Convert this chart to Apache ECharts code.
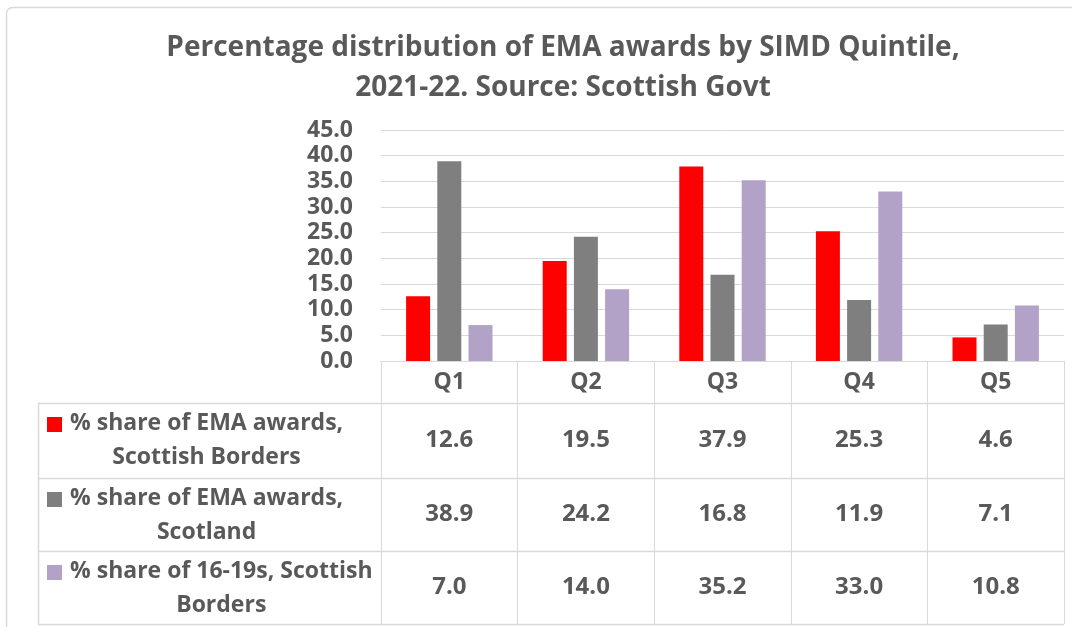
<!DOCTYPE html>
<html>
<head>
<meta charset="utf-8">
<script src="https://cdn.jsdelivr.net/npm/echarts@6/dist/echarts.min.js"></script>
<style>
  html, body { margin: 0; padding: 0; background: #fff; }
  #chart { width: 1072px; height: 627px; }
</style>
</head>
<body>
<div id="chart"></div>
<script>
// SIMD quintiles and the three percentage series
const quintiles = ['Q1', 'Q2', 'Q3', 'Q4', 'Q5'];
const bordersEMA = [12.6, 19.5, 37.9, 25.3, 4.6];
const scotlandEMA = [38.9, 24.2, 16.8, 11.9, 7.1];
const bordersPop = [7.0, 14.0, 35.2, 33.0, 10.8];
const seriesNames = [
  '% share of EMA awards, Scottish Borders',
  '% share of EMA awards, Scotland',
  '% share of 16-19s, Scottish Borders'
];
// wrapped forms used in the data-table key
const seriesKeyLines = [
  ['% share of EMA awards,', 'Scottish Borders'],
  ['% share of EMA awards,', 'Scotland'],
  ['% share of 16-19s, Scottish', 'Borders']
];
const titleLines = [
  'Percentage distribution of EMA awards by SIMD Quintile,',
  '2021-22. Source: Scottish Govt'
];
const yMin = 0, yMax = 45, yStep = 5;

const seriesValues = [bordersEMA, scotlandEMA, bordersPop];
const colors = ['#FF0000', '#7F7F7F', '#B3A2C7'];
const textColor = '#595959';
const lineColor = '#D9D9D9';
const font = "'Open Sans', 'DejaVu Sans', sans-serif";

// plot / table geometry
const plotLeft = 381, plotRight = 1064, plotTop = 130, axisY = 361;
const rowLines = [403, 478, 551, 624];
const keyLeft = 38;
const keyTextLeft = 70;
const keyFont = 'bold 23px ' + font;
const titleCenterX = 558;

const chart = echarts.init(document.getElementById('chart'), null, { renderer: 'canvas' });
const measureCtx = document.createElement('canvas').getContext('2d');

// one extra category axis per table row carries that row's values
const rowOffsets = [59, 133, 206];
const tableAxes = seriesValues.map((vals, r) => ({
  type: 'category',
  data: quintiles,
  gridIndex: 0,
  position: 'bottom',
  offset: rowOffsets[r],
  axisLine: { show: false },
  axisTick: { show: false },
  axisLabel: {
    margin: 8,
    color: textColor,
    fontFamily: font,
    fontWeight: 'bold',
    fontSize: 24,
    lineHeight: 24,
    formatter: (v, i) => vals[i].toFixed(1)
  }
}));

// key column: swatches and wrapped series names, each block centred on its widest line
measureCtx.font = keyFont;
const keyGraphics = [];
seriesKeyLines.forEach((lines, r) => {
  const top = rowLines[r];
  const widest = Math.max(...lines.map(l => measureCtx.measureText(l).width));
  keyGraphics.push({
    type: 'rect',
    shape: { x: 47, y: top + 14, width: 15, height: 15 },
    style: { fill: colors[r] }
  });
  keyGraphics.push({
    type: 'text',
    style: {
      x: keyTextLeft + widest / 2,
      y: top + 3,
      text: lines.join('\n'),
      align: 'center',
      verticalAlign: 'top',
      font: keyFont,
      lineHeight: 34,
      fill: textColor
    }
  });
});

const option = {
  animation: false,
  backgroundColor: '#fff',
  title: {
    text: titleLines.join('\n'),
    left: titleCenterX,
    top: 23,
    textAlign: 'center',
    textStyle: {
      color: textColor,
      fontFamily: font,
      fontWeight: 'bold',
      fontSize: 28,
      lineHeight: 40
    }
  },
  grid: {
    left: plotLeft,
    right: 1072 - plotRight,
    top: plotTop,
    bottom: 627 - axisY,
    containLabel: false
  },
  xAxis: [{
    type: 'category',
    data: quintiles,
    position: 'bottom',
    axisLine: { show: true, lineStyle: { color: lineColor, width: 1 } },
    axisTick: { show: true, length: rowLines[3] - axisY, lineStyle: { color: lineColor, width: 1 } },
    axisLabel: {
      margin: 9,
      color: textColor,
      fontFamily: font,
      fontWeight: 'bold',
      fontSize: 23,
      lineHeight: 24
    }
  }].concat(tableAxes),
  yAxis: {
    type: 'value',
    min: yMin,
    max: yMax,
    interval: yStep,
    axisLine: { show: false },
    axisTick: { show: false },
    splitLine: { lineStyle: { color: lineColor, width: 1 } },
    axisLabel: {
      margin: 28,
      color: textColor,
      fontFamily: font,
      fontWeight: 'bold',
      fontSize: 23,
      formatter: v => v.toFixed(1)
    }
  },
  series: seriesValues.map((vals, i) => ({
    name: seriesNames[i],
    type: 'bar',
    data: vals,
    barWidth: 24,
    barGap: '30%',
    itemStyle: { color: colors[i] }
  })),
  graphic: [
    // outer chart frame
    {
      type: 'rect',
      shape: { x: 6.5, y: 7.5, width: 1100, height: 700, r: 6 },
      style: { fill: 'none', stroke: lineColor, lineWidth: 1.5 },
      z: -1
    },
    // table row rules
    ...rowLines.map(y => ({
      type: 'line',
      shape: { x1: keyLeft, y1: y + 0.5, x2: plotRight, y2: y + 0.5 },
      style: { stroke: lineColor, lineWidth: 1.5 }
    })),
    {
      type: 'line',
      shape: { x1: keyLeft + 0.5, y1: rowLines[0], x2: keyLeft + 0.5, y2: rowLines[3] },
      style: { stroke: lineColor, lineWidth: 1.5 }
    },
    ...keyGraphics
  ]
};

chart.setOption(option);
</script>
</body>
</html>
